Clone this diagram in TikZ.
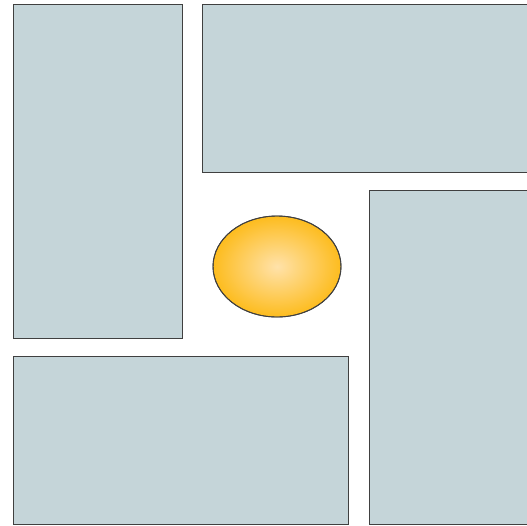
\documentclass[tikz,border=0pt]{standalone}
\usepackage{tikz}

\definecolor{blockfill}{RGB}{197,213,217}
\definecolor{ballout}{RGB}{253,188,30}
\definecolor{ballin}{RGB}{255,226,170}

\tikzset{
    block/.style={fill=blockfill, draw=black!75, line width=0.9pt},
    ball/.style={draw=black!75, line width=0.9pt, inner color=ballin, outer color=ballout}
}

\begin{document}
\begin{tikzpicture}[x=1pt, y=-1pt]
    \useasboundingbox (0,0) rectangle (527,525);
    \clip (0,0) rectangle (527,525);

    % four blocks round the ball
    \filldraw[block] (13,4) rectangle (182,338);
    \filldraw[block] (202,4) rectangle (535,172);
    \filldraw[block] (369,190) rectangle (535,524);
    \filldraw[block] (13,356) rectangle (348,524);

    \shade[ball] (277,266.5) ellipse [x radius=64, y radius=50.5];
    \draw[draw=black!75, line width=0.9pt] (277,266.5) ellipse [x radius=64, y radius=50.5];
\end{tikzpicture}
\end{document}
